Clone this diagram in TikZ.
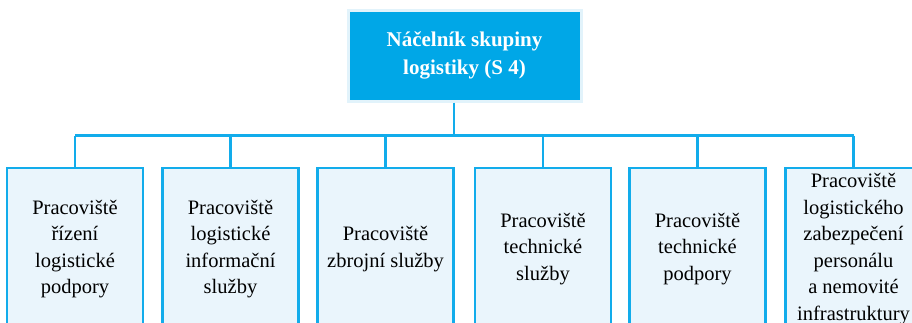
\documentclass[tikz,border=0pt]{standalone}
\usepackage{fontspec}
\setmainfont{Liberation Serif}
\definecolor{headblue}{HTML}{00A7E7}
\definecolor{halo}{HTML}{E2F3FB}
\definecolor{linkblue}{HTML}{12ACEB}
\definecolor{boxfill}{HTML}{EAF5FC}
\begin{document}
\begin{tikzpicture}[x=1pt,y=-1pt,
  headbox/.style={fill=headblue, draw=halo, line width=3pt, text=white,
    font=\fontsize{21}{27.5}\selectfont\bfseries, align=center,
    minimum width=233pt, minimum height=91pt, inner sep=0pt},
  unitbox/.style={fill=boxfill, draw=linkblue, line width=2.5pt, text=black,
    font=\fontsize{20.5}{26.5}\selectfont, align=center,
    minimum width=136pt, minimum height=162pt, inner sep=0pt},
  link/.style={draw=linkblue, line width=2.5pt}]
\useasboundingbox (0,0) rectangle (912,322);
\clip (0,0) rectangle (912,322);

% head of the logistics group
\node[headbox] (top) at (464.5,55.5) {Náčelník skupiny\\logistiky (S 4)};

% subordinate workplaces
\node[unitbox] (b1) at (75,249)  {Pracoviště\\řízení\\logistické\\podpory};
\node[unitbox] (b2) at (230.5,249) {Pracoviště\\logistické\\informační\\služby};
\node[unitbox] (b3) at (385.5,249) {Pracoviště\\zbrojní služby};
\node[unitbox] (b4) at (543,249) {Pracoviště\\technické\\služby};
\node[unitbox] (b5) at (697.5,249) {Pracoviště\\technické\\podpory};
\node[unitbox] (b6) at (853.5,249) {Pracoviště\\logistického\\zabezpečení\\personálu\\a nemovité\\infrastruktury};

% organisational tree connectors
\coordinate (junction) at (454,135.5);
\draw[link] (junction |- top.south) -- (junction);
\draw[link] (b1.north |- junction) -- (b6.north |- junction);
\foreach \b in {b1,b2,b3,b4,b5,b6}
  \draw[link] (\b.north |- junction) -- (\b.north);
\end{tikzpicture}
\end{document}
